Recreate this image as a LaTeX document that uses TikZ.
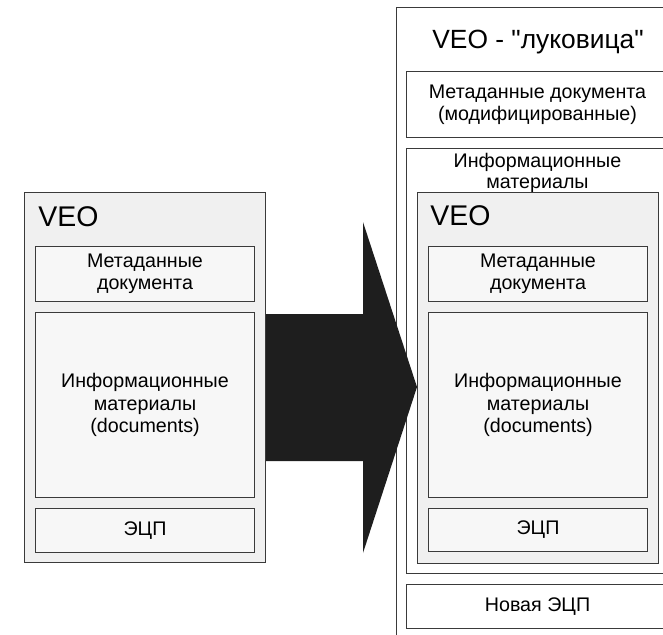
\documentclass[tikz,border=0pt]{standalone}
\usepackage{fontspec}
\setmainfont{Liberation Sans}
\usetikzlibrary{positioning}

\definecolor{linegray}{HTML}{3A3A3A}
\definecolor{boxgray}{HTML}{F7F7F7}
\definecolor{veogray}{HTML}{F0F0F0}
\definecolor{arrowblack}{HTML}{1E1E1E}

\begin{document}
\begin{tikzpicture}[x=0.02cm, y=-0.02cm]
            \tikzset{box/.style 2 args={draw=linegray, line width=0.6pt, fill=boxgray, inner sep=0pt, align=center,
                anchor=north west, minimum width=#1*0.2mm, minimum height=#2*0.2mm,
                font=\fontsize{11.2}{12.8}\selectfont},
            whitebox/.style 2 args={box={#1}{#2}, fill=white},
            veobox/.style 2 args={box={#1}{#2}, fill=veogray},
            txt/.style={inner sep=0pt, align=center, font=\fontsize{11.2}{12}\selectfont},
            veolbl/.style={inner sep=0pt, anchor=base west, font=\fontsize{16.2}{18}\selectfont}}

            \useasboundingbox (0,0) rectangle (663,635);
            \clip (0,0) rectangle (663,635);

            % left: plain VEO
            \node[veobox={241}{370}] (veoL) at (24,192) {};
            \node[veolbl] (veoLlbl) at (38,226) {VEO};
            \node[box={219}{55}] (metaL) at (35,246) {Метаданные\\документа};
            \node[box={219}{185}] (infoL) at (35,312) {Информационные\\материалы\\(documents)};
            \node[box={219}{44}] (sigL) at (35,508) {ЭЦП};

            % right: the onion
            \node[whitebox={282}{700}] (onion) at (396,7) {};
            \node[inner sep=0pt, font=\fontsize{15}{17}\selectfont] (onionlbl) at (538,42) {VEO - \textquotedbl луковица\textquotedbl};
            \node[whitebox={262}{66}] (metaR) at (406,71) {Метаданные документа\\(модифицированные)};
            \node[whitebox={262}{425}] (matR) at (406,148) {};
            \node[txt, below=3pt of matR.north] (matRlbl) {Информационные\\материалы};
            \node[veobox={241}{371}] (veoR) at (417,192) {};
            \node[veolbl] (veoRlbl) at (430,225) {VEO};
            \node[box={219}{55}] (metaR2) at (428,246) {Метаданные\\документа};
            \node[box={219}{185}] (infoR) at (428,312) {Информационные\\материалы\\(documents)};
            \node[box={219}{43}] (sigR) at (428,508) {ЭЦП};
            \node[whitebox={262}{44}] (newsig) at (406,584) {Новая ЭЦП};

            % the big arrow
            \fill[arrowblack] (veoL.east |- 0,314) -- (363,314) -- (363,222) -- (417,387)
                -- (363,553) -- (363,461) -- (veoL.east |- 0,461) -- cycle;
        \end{tikzpicture}
\end{document}
